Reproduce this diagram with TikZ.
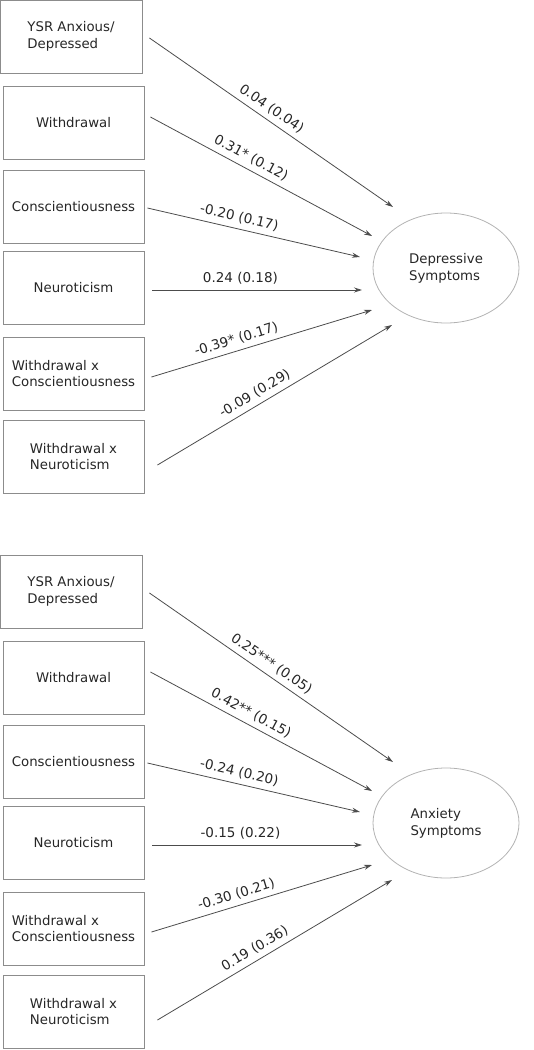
\documentclass[tikz,border=0pt]{standalone}
\usepackage{fontspec}
\setmainfont{DejaVu Sans}
\usetikzlibrary{shapes.geometric,arrows.meta}
\tikzset{
  obs/.style={draw=black!45, line width=0.9pt, minimum width=141pt, minimum height=73pt,
    align=left, inner sep=0pt, text=black!85, font=\fontsize{13.3}{16.5}\selectfont},
  lat/.style={ellipse, draw=black!30, line width=0.8pt, minimum width=146pt, minimum height=110pt,
    align=left, inner sep=0pt, text=black!85, font=\fontsize{13.3}{17}\selectfont},
  reg/.style={draw=black!70, line width=0.8pt, -{Stealth[length=8pt,width=5pt]}},
  coef/.style={sloped, above=3pt, inner sep=2pt, text=black!85, font=\fontsize{13.5}{15}\selectfont}
}
\begin{document}
\begin{tikzpicture}[x=1pt,y=-1pt]
\useasboundingbox (0,0) rectangle (534,1050);
% depressive symptoms
\node[obs, minimum width=142pt] (ysr1) at (71,36.5) {YSR Anxious/\\Depressed};
\node[obs] (wd1) at (73.5,122.5) {Withdrawal};
\node[obs] (con1) at (73.5,207) {Conscientiousness};
\node[obs] (neu1) at (73.5,287.5) {Neuroticism};
\node[obs] (wxc1) at (73.5,373.5) {Withdrawal x\\Conscientiousness};
\node[obs] (wxn1) at (73.5,456.5) {Withdrawal x\\Neuroticism};
\node[lat] (dep) at (446,268) {Depressive\\Symptoms};
\coordinate (dep1) at (393,207);
\coordinate (dep2) at (372,236);
\coordinate (dep3) at (360,257);
\coordinate (dep4) at (362,290);
\coordinate (dep5) at (372,310);
\coordinate (dep6) at (392,325);
\draw[reg] ([xshift=7pt,yshift=-1.5pt]ysr1.east) -- node[coef, pos=.475] {0.04 (0.04)} (dep1);
\draw[reg] ([xshift=6pt,yshift=5.5pt]wd1.east) -- node[coef, pos=.43] {0.31* (0.12)} (dep2);
\draw[reg] ([xshift=3pt,yshift=-1pt]con1.east) -- node[coef, pos=.42] {-0.20 (0.17)} (dep3);
\draw[reg] ([xshift=8pt,yshift=-2.5pt]neu1.east) -- node[coef, pos=.42] {0.24 (0.18)} (dep4);
\draw[reg] ([xshift=7pt,yshift=-3.5pt]wxc1.east) -- node[coef, pos=.40] {-0.39* (0.17)} (dep5);
\draw[reg] ([xshift=13pt,yshift=-8.5pt]wxn1.east) -- node[coef, pos=.44] {-0.09 (0.29)} (dep6);
% anxiety symptoms
\node[obs, minimum width=142pt] (ysr2) at (71,591.5) {YSR Anxious/\\Depressed};
\node[obs] (wd2) at (73.5,677.5) {Withdrawal};
\node[obs] (con2) at (73.5,762) {Conscientiousness};
\node[obs] (neu2) at (73.5,842.5) {Neuroticism};
\node[obs] (wxc2) at (73.5,928.5) {Withdrawal x\\Conscientiousness};
\node[obs] (wxn2) at (73.5,1011.5) {Withdrawal x\\Neuroticism};
\node[lat] (anx) at (446,823) {Anxiety\\Symptoms};
\coordinate (anx1) at (393,762);
\coordinate (anx2) at (372,791);
\coordinate (anx3) at (360,812);
\coordinate (anx4) at (362,845);
\coordinate (anx5) at (372,865);
\coordinate (anx6) at (392,880);
\draw[reg] ([xshift=7pt,yshift=-1.5pt]ysr2.east) -- node[coef, pos=.475] {0.25*** (0.05)} (anx1);
\draw[reg] ([xshift=6pt,yshift=5.5pt]wd2.east) -- node[coef, pos=.43] {0.42** (0.15)} (anx2);
\draw[reg] ([xshift=3pt,yshift=-1pt]con2.east) -- node[coef, pos=.42] {-0.24 (0.20)} (anx3);
\draw[reg] ([xshift=8pt,yshift=-2.5pt]neu2.east) -- node[coef, pos=.42] {-0.15 (0.22)} (anx4);
\draw[reg] ([xshift=7pt,yshift=-3.5pt]wxc2.east) -- node[coef, pos=.40] {-0.30 (0.21)} (anx5);
\draw[reg] ([xshift=13pt,yshift=-8.5pt]wxn2.east) -- node[coef, pos=.44] {0.19 (0.36)} (anx6);
\end{tikzpicture}
\end{document}
